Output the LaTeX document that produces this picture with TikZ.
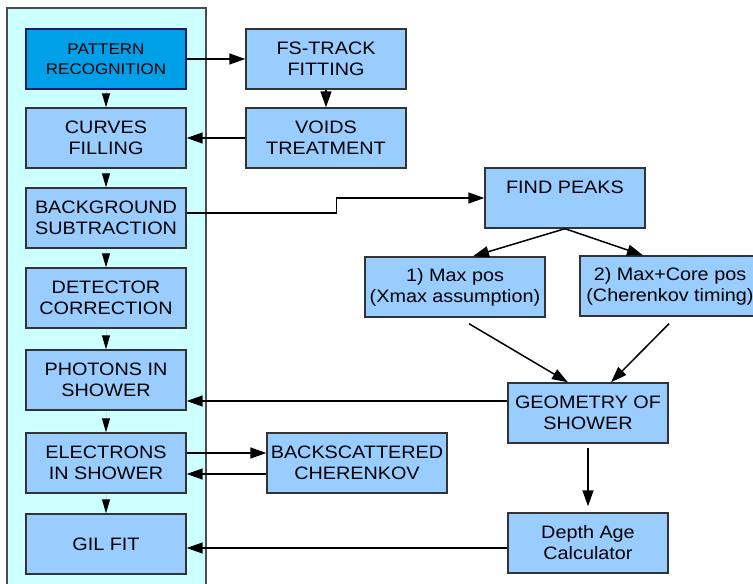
\documentclass[tikz,border=0pt]{standalone}
\usepackage{fontspec}
\setmainfont[FakeStretch=1.1]{Liberation Sans}
\usetikzlibrary{arrows.meta}
\definecolor{lb}{HTML}{99CCFF}
\definecolor{db}{HTML}{00A0E8}
\definecolor{pan}{HTML}{CCFFFF}
\definecolor{bd}{HTML}{333333}
\definecolor{navy}{HTML}{1A1A70}
\begin{document}
\begin{tikzpicture}[x=1pt,y=-1pt,
 box/.style={draw=bd, line width=1.4pt, fill=lb, minimum width=160pt, minimum height=60pt, inner sep=0pt, align=center, font=\fontsize{18}{21}\selectfont},
 wbox/.style={box, minimum width=180pt},
 arr/.style={line width=1.5pt, -{Triangle[length=16pt,width=11pt]}},
 sarr/.style={draw=gray!30, line width=1pt, -{Triangle[length=14pt,width=8pt,color=black]}}]
\useasboundingbox (0,0) rectangle (753,584);
\clip (0,0) rectangle (753,584);
\draw[draw=gray!60!black, line width=1.4pt, fill=pan] (7,8) rectangle (206,600);
% left column
\node[box, fill=db, draw=navy, font=\fontsize{15.5}{20}\selectfont] (pat) at (106,59) {PATTERN\\RECOGNITION};
\node[box] (curves) at (106,138) {CURVES\\FILLING};
\node[box] (bg) at (106,218) {BACKGROUND\\SUBTRACTION};
\node[box] (det) at (106,298) {DETECTOR\\CORRECTION};
\node[box] (phot) at (106,380) {PHOTONS IN\\SHOWER};
\node[box] (elec) at (106,463) {ELECTRONS\\IN SHOWER};
\node[box] (gil) at (106,544) {GIL FIT};
% right
\node[box] (fs) at (326,59) {FS-TRACK\\FITTING};
\node[box] (voids) at (326,138) {VOIDS\\TREATMENT};
\node[box] (peaks) at (565,198) {FIND PEAKS\\\mbox{}};
\node[wbox] (max1) at (455,287) {1) Max pos\\(Xmax assumption)};
\node[wbox] (max2) at (670,286) {2) Max+Core pos\\(Cherenkov timing)};
\node[box] (geo) at (588,413) {GEOMETRY OF\\SHOWER};
\node[box] (depth) at (588,543) {Depth Age\\Calculator};
\node[wbox] (back) at (357,463) {BACKSCATTERED\\CHERENKOV};
% small arrows
\draw[sarr] (pat.south) -- (curves.north);
\draw[sarr] (curves.south) -- (bg.north);
\draw[sarr] (bg.south) -- (det.north);
\draw[sarr] (det.south) -- (phot.north);
\draw[sarr] (phot.south) -- (elec.north);
\draw[sarr] (elec.south) -- (gil.north);
% arrows
\draw[arr] (pat.east) -- (fs.west);
\draw[arr] (fs.south) -- (voids.north);
\draw[arr] (voids.west) -- (curves.east);
\draw[arr] ([yshift=5pt]bg.east) -- ++(150,0) |- (peaks.west);
\draw[arr] (peaks.south) -- ([xshift=18pt]max1.north);
\draw[arr] (peaks.south) -- ([xshift=-27pt]max2.north);
\draw[arr] ([shift={(14pt,-6pt)}]max1.south) -- ([xshift=-20pt]geo.north);
\draw[arr] ([shift={(-1pt,-7pt)}]max2.south) -- ([xshift=23pt]geo.north);
\draw[arr] ([yshift=12pt]geo.west) coordinate (g1) -- (g1 -| phot.east);
\draw[arr] ([yshift=-4pt]geo.south) -- ([yshift=6pt]depth.north);
\draw[arr] ([yshift=-5pt]depth.west) coordinate (d1) -- (d1 -| gil.east);
\draw[arr] ([yshift=10pt]elec.east) coordinate (e1) -- (e1 -| back.west);
\draw[arr] ([yshift=-11pt]back.west) coordinate (b1) -- (b1 -| elec.east);
\end{tikzpicture}
\end{document}
